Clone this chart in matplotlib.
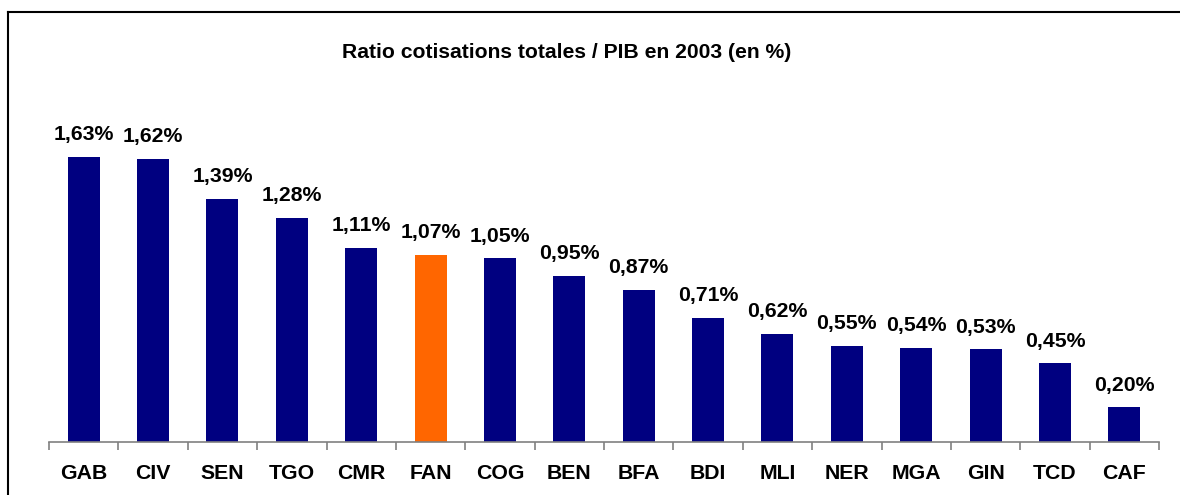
import matplotlib
matplotlib.use("Agg")
import matplotlib.pyplot as plt
from matplotlib.lines import Line2D
import numpy as np

categories = ["GAB", "CIV", "SEN", "TGO", "CMR", "FAN", "COG", "BEN",
              "BFA", "BDI", "MLI", "NER", "MGA", "GIN", "TCD", "CAF"]
values = [1.63, 1.62, 1.39, 1.28, 1.11, 1.07, 1.05, 0.95,
          0.87, 0.71, 0.62, 0.55, 0.54, 0.53, 0.45, 0.20]
labels = ["1,63%", "1,62%", "1,39%", "1,28%", "1,11%", "1,07%", "1,05%", "0,95%",
          "0,87%", "0,71%", "0,62%", "0,55%", "0,54%", "0,53%", "0,45%", "0,20%"]
highlight = "FAN"
title = "Ratio cotisations totales / PIB en 2003 (en %)"

plt.rcParams['font.family'] = ['Liberation Sans', 'DejaVu Sans']

W, H = 1180, 495
fig = plt.figure(figsize=(W / 100, H / 100), dpi=100)

ax_left, ax_right = 49 / W, 1159 / W
ax_bottom = (H - 442) / H
ax_height = 350 / H
ax = fig.add_axes([ax_left, ax_bottom, ax_right - ax_left, ax_height])

x = np.arange(len(categories))
colors = ["#FF6600" if c == highlight else "#000080" for c in categories]
ax.bar(x, values, width=0.46, color=colors, zorder=2)

for xi, v, lab in zip(x, values, labels):
    ax.annotate(lab, (xi, v), xytext=(0, 9), textcoords="offset points",
                ha="center", va="bottom", fontsize=15.3, fontweight="bold")

ax.set_xlim(-0.5, len(categories) - 0.5)
ax.set_ylim(0, 2.0)
ax.set_yticks([])
for s in ["top", "right", "left"]:
    ax.spines[s].set_visible(False)
ax.spines["bottom"].set_color("#808080")
ax.spines["bottom"].set_linewidth(1.2)

ax.set_xticks(x)
ax.set_xticklabels(categories, fontsize=15.3, fontweight="bold")
ax.tick_params(axis="x", which="major", length=0, pad=16)
ax.set_xticks(np.arange(-0.5, len(categories), 1.0), minor=True)
ax.tick_params(axis="x", which="minor", length=6, width=1.2, color="#808080", direction="out")

fig.text(567 / W, 1 - 52 / H, title, ha="center", va="center",
         fontsize=15.2, fontweight="bold")

# outer frame (left and top visible)
fx = 7.5 / W
fy = 1 - 11.5 / H
fig.add_artist(Line2D([fx, fx], [0, fy], transform=fig.transFigure, color="black", lw=1.5))
fig.add_artist(Line2D([fx, 1.0], [fy, fy], transform=fig.transFigure, color="black", lw=1.5))

fig.savefig("out.png", dpi=100, facecolor="white")
